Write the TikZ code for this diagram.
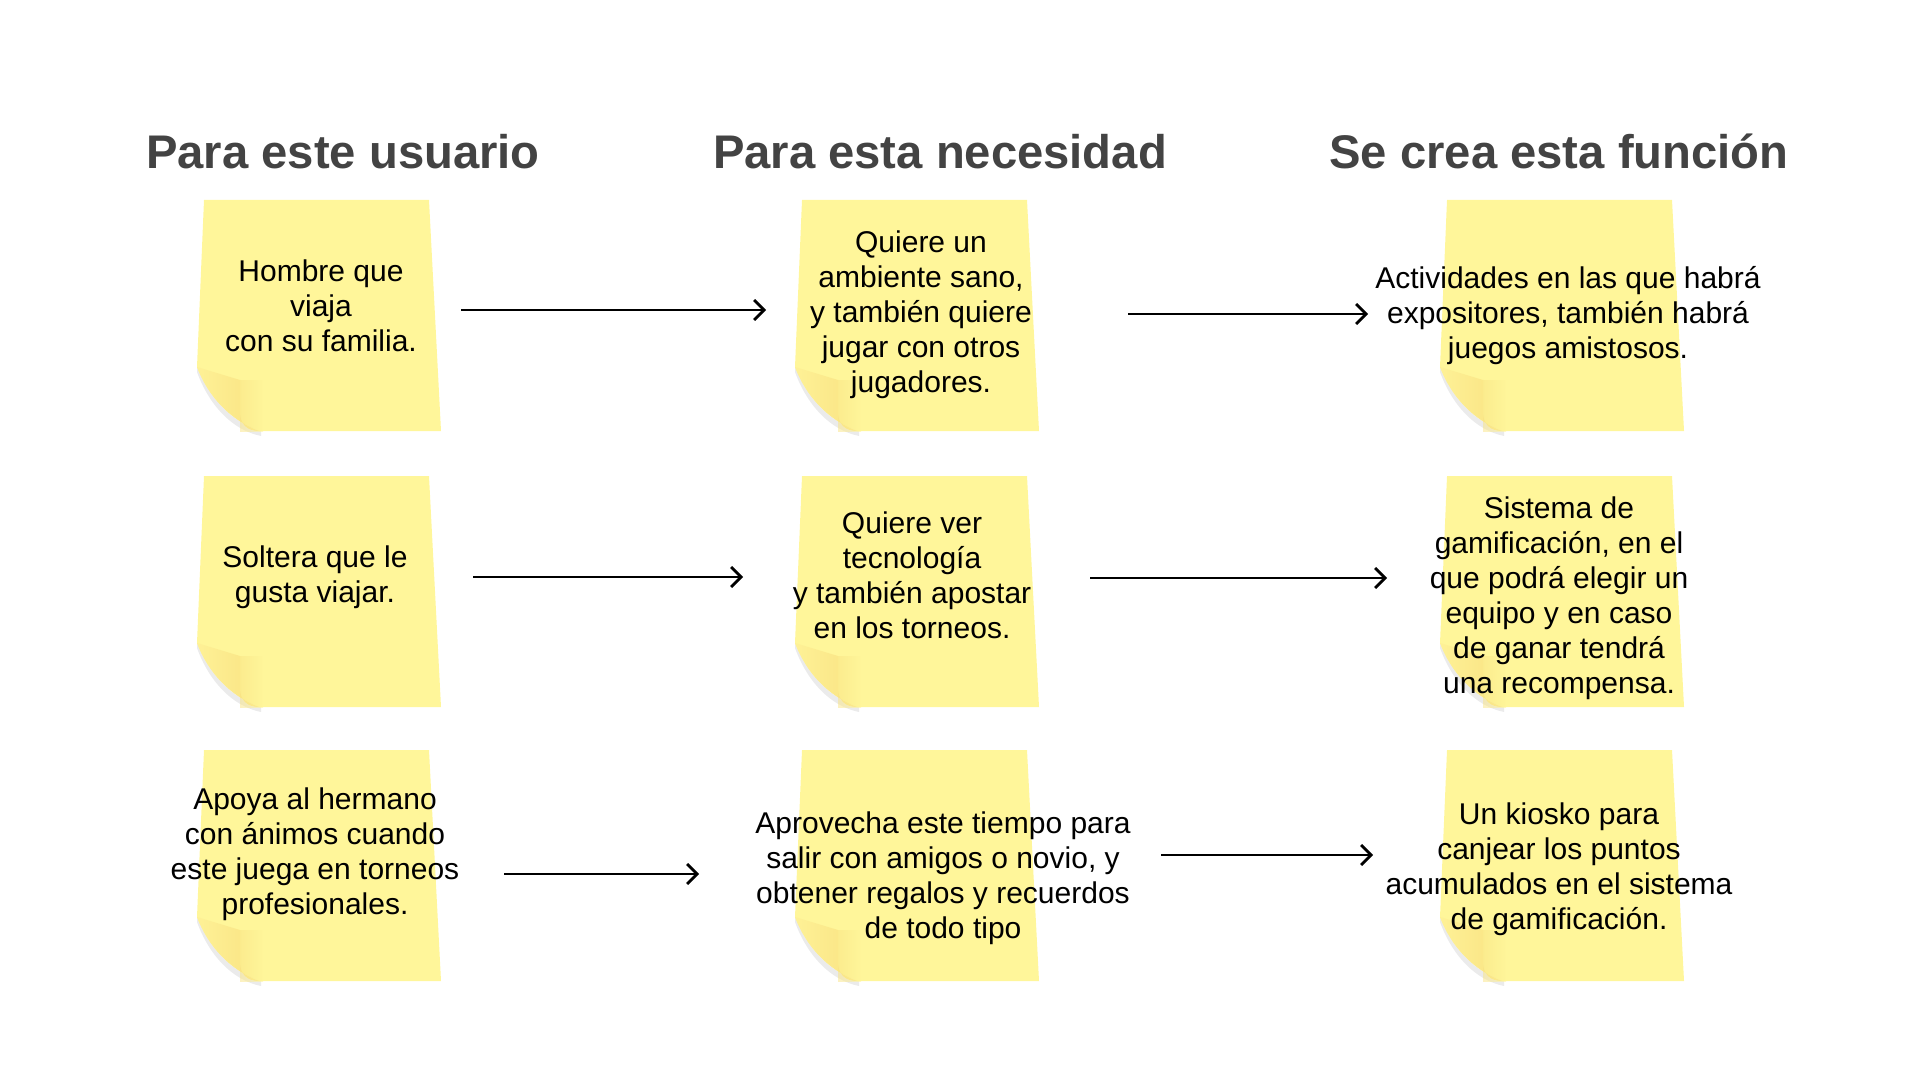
\documentclass[tikz,border=0pt]{standalone}
\usepackage{fontspec}
\setmainfont{Liberation Sans}
\usepackage{tikz}
\usetikzlibrary{arrows.meta}

\definecolor{notebody}{HTML}{FFF69A}
\definecolor{flapdark}{HTML}{F9E383}
\definecolor{flaplight}{HTML}{FEF196}
\definecolor{headgray}{HTML}{434343}

\begin{document}
\begin{tikzpicture}[x=0.5pt,y=-0.5pt]
        % Define styles for the notes, texts and links
        \tikzset{
            note_text/.style={font=\fontsize{15}{17.5}\selectfont, align=center, text=black, inner sep=0pt},
            head_text/.style={font=\bfseries\fontsize{23.6}{28}\selectfont, text=headgray, anchor=base},
            link/.style={draw=black, line width=1.4pt, -{Straight Barb[length=5pt,width=10pt,line width=1.4pt]}}
        }

        \useasboundingbox (0,0) rectangle (1920,1080);

        % Sticky notes: left edge / top edge
        \foreach \nx/\ny in {197/200, 795/200, 1440/200,
                             197/476, 795/476, 1440/476,
                             197/750, 795/750, 1440/750} {
            \begin{scope}[shift={(\nx,\ny)}]
                \fill[black, opacity=0.08] (0,172) .. controls (12,205) and (35,230) .. (64,236) -- (64,231) .. controls (35,222) and (14,200) .. (0,167) -- cycle;
                \fill[notebody] (7,0) -- (232,0) -- (244,231) -- (62,231) .. controls (34,220) and (12,198) .. (0,167) -- cycle;
                \shade[left color=flaplight, right color=flapdark] (0,167) -- (43,180) -- (43,212) .. controls (43,224) and (50,231) .. (62,231) .. controls (34,220) and (12,198) .. (0,167) -- cycle;
                \shade[left color=flapdark, right color=notebody, opacity=0.5] (43,180) rectangle (66,231);
            \end{scope}
        }

        % Column headers
        \node[head_text] (head_user) at (343,169) {Para este usuario};
        \node[head_text] (head_need) at (940,169) {Para esta necesidad};
        \node[head_text] (head_feat) at (1559,169) {Se crea esta función};

        % Row 1
        \node[note_text] (user1) at (321,306) {Hombre que\\viaja\\con su familia.};
        \node[note_text] (need1) at (921,315) {Quiere un\\ambiente sano,\\y también quiere\\jugar con otros\\jugadores.};
        \node[note_text] (feat1) at (1568,316) {Actividades en las que habrá\\expositores, también habrá\\juegos amistosos.};

        % Row 2
        \node[note_text] (user2) at (315,577) {Soltera que le\\gusta viajar.};
        \node[note_text] (need2) at (912,575) {Quiere ver\\tecnología\\y también apostar\\en los torneos.};
        \node[note_text] (feat2) at (1559,598) {Sistema de\\gamificación, en el\\que podrá elegir un\\equipo y en caso\\de ganar tendrá\\una recompensa.};

        % Row 3
        \node[note_text] (user3) at (315,854) {Apoya al hermano\\con ánimos cuando\\este juega en torneos\\profesionales.};
        \node[note_text] (need3) at (943,878) {Aprovecha este tiempo para\\salir con amigos o novio, y\\obtener regalos y recuerdos\\de todo tipo};
        \node[note_text] (feat3) at (1559,869) {Un kiosko para\\canjear los puntos\\acumulados en el sistema\\de gamificación.};

        % Link ends
        \coordinate (user1_out) at (461,310);
        \coordinate (need1_in) at (766,310);
        \coordinate (need1_out) at (1128,314);
        \coordinate (feat1_in) at (1368,314);
        \coordinate (user2_out) at (473,577);
        \coordinate (need2_in) at (743,577);
        \coordinate (need2_out) at (1090,578);
        \coordinate (feat2_in) at (1387,578);
        \coordinate (user3_out) at (504,874);
        \coordinate (need3_in) at (699,874);
        \coordinate (need3_out) at (1161,855);
        \coordinate (feat3_in) at (1373,855);

        % Links
        \draw[link] (user1_out) -- (need1_in);
        \draw[link] (need1_out) -- (feat1_in);
        \draw[link] (user2_out) -- (need2_in);
        \draw[link] (need2_out) -- (feat2_in);
        \draw[link] (user3_out) -- (need3_in);
        \draw[link] (need3_out) -- (feat3_in);

    \end{tikzpicture}
\end{document}
